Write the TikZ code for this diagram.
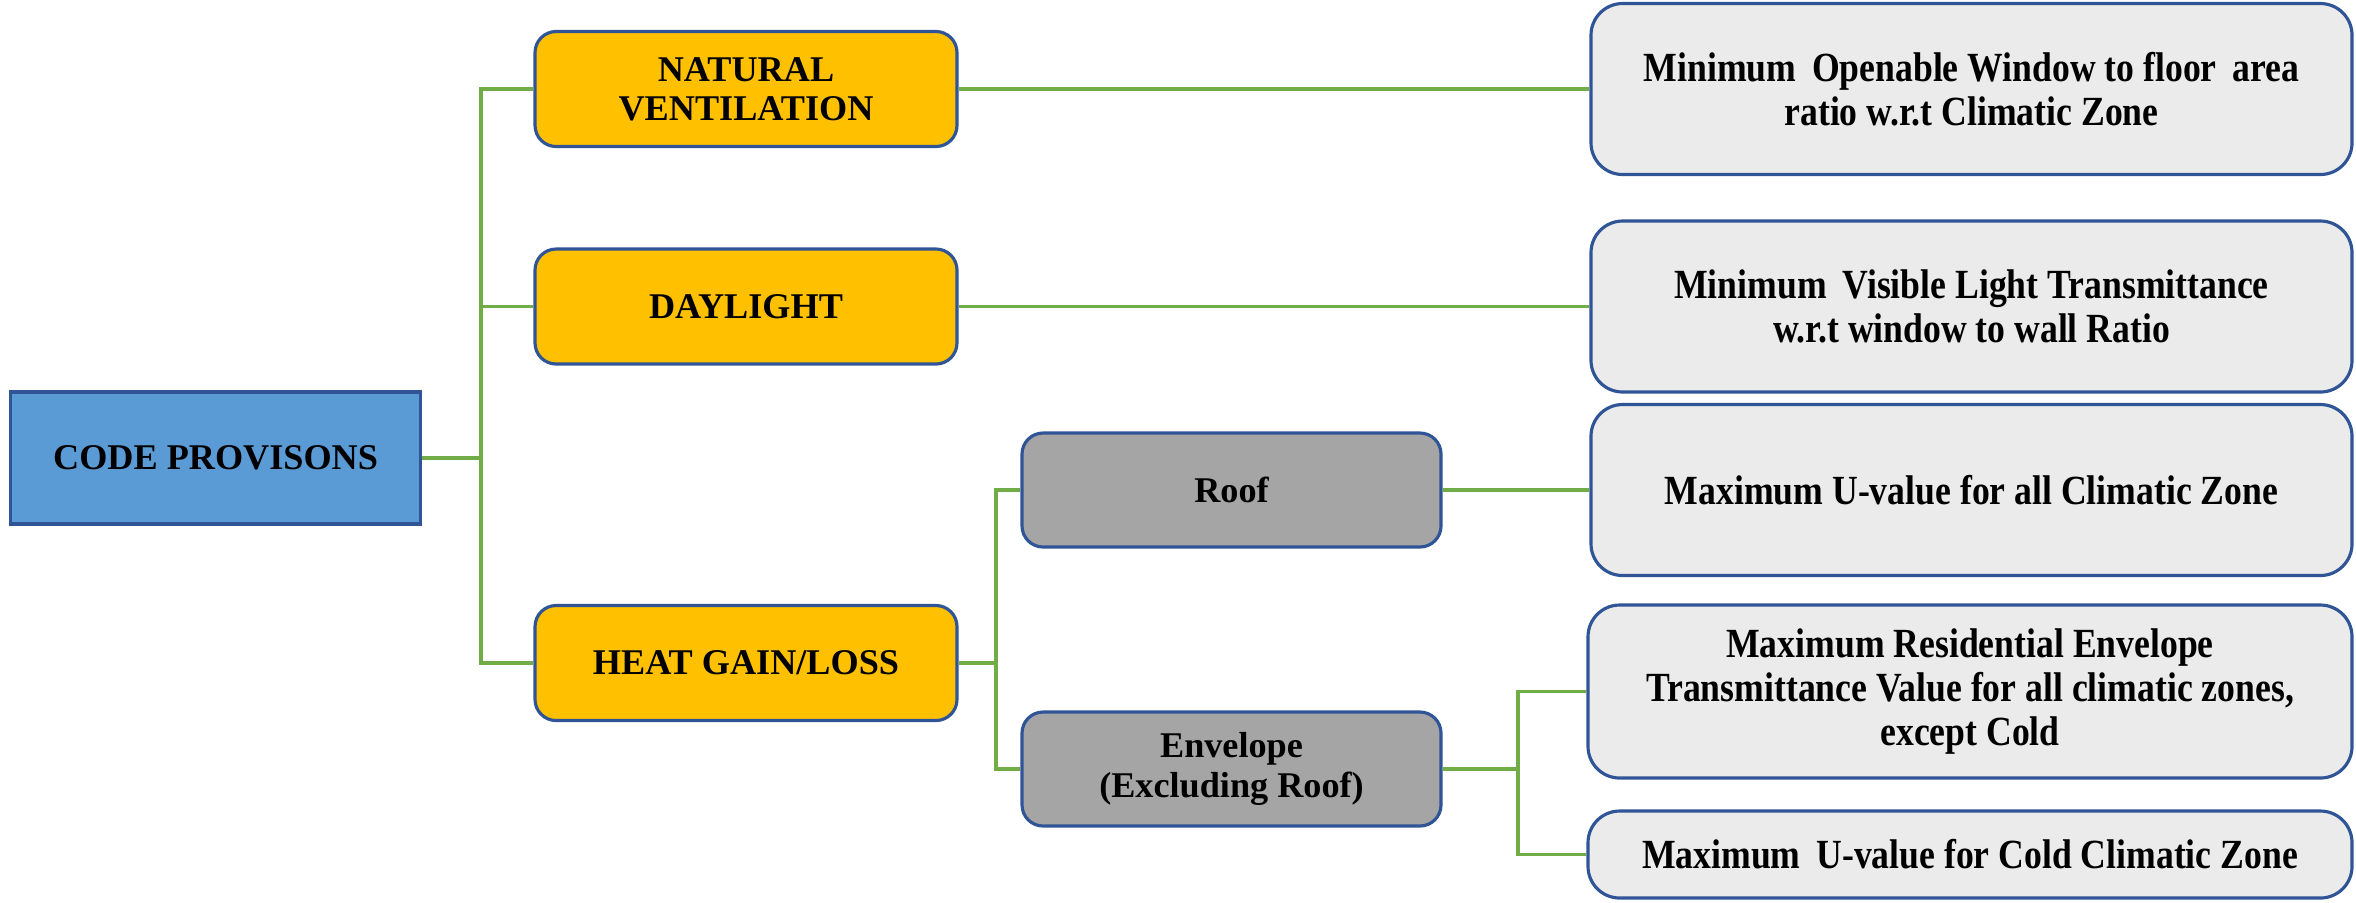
\documentclass[tikz,border=0pt]{standalone}
\usepackage{fontspec}
\setmainfont{Liberation Serif}
\newfontfamily\condfont{Liberation Serif}[FakeStretch=0.86]
\usetikzlibrary{positioning,calc}

\definecolor{rootblue}{HTML}{5B9BD5}
\definecolor{edgeblue}{HTML}{2F5597}
\definecolor{amber}{HTML}{FFC000}
\definecolor{midgray}{HTML}{A5A5A5}
\definecolor{palegray}{HTML}{EBEBEB}
\definecolor{leafgreen}{HTML}{70AD47}

\begin{document}
\begin{tikzpicture}[
    box/.style={draw=edgeblue, line width=0.9pt, align=center, inner sep=2pt, font=\fontsize{10.3}{11.2}\selectfont\bfseries, text=black},
    root/.style={box, fill=rootblue, minimum width=4.10cm, minimum height=1.32cm},
    topic/.style={box, fill=amber, rounded corners=6pt, minimum width=4.22cm, minimum height=1.15cm},
    part/.style={box, fill=midgray, rounded corners=6pt, minimum width=4.19cm, minimum height=1.14cm},
    rule/.style={box, fill=palegray, rounded corners=9pt, minimum width=7.61cm, font=\fontsize{11.8}{12.5}\selectfont\condfont\bfseries},
    link/.style={draw=leafgreen, line width=1.1pt},
]
\useasboundingbox (0,0) rectangle (23.56,-9.02);

\node[root] (code) at (2.156,-4.58) {CODE PROVISONS};

\node[topic] (nat) at (7.46,-0.89) {NATURAL\\VENTILATION};
\node[topic] (day) at (7.46,-3.065) {DAYLIGHT};
\node[topic] (heat) at (7.46,-6.63) {HEAT GAIN/LOSS};

\node[part] (roof) at (12.315,-4.90) {Roof};
\node[part] (env) at (12.315,-7.69) {Envelope\\(Excluding Roof)};

\node[rule, minimum height=1.71cm] (r1) at (19.715,-0.89) {Minimum\, Openable Window to floor\, area\\ratio w.r.t Climatic Zone};
\node[rule, minimum height=1.71cm] (r2) at (19.715,-3.065) {Minimum\, Visible Light Transmittance\\w.r.t window to wall Ratio};
\node[rule, minimum height=1.71cm] (r3) at (19.715,-4.90) {Maximum U-value for all Climatic Zone};
\node[rule, minimum height=1.73cm, minimum width=7.64cm] (r4) at (19.70,-6.915) {Maximum Residential Envelope\\Transmittance Value for all climatic zones,\\except Cold};
\node[rule, minimum height=0.87cm, minimum width=7.64cm] (r5) at (19.70,-8.545) {Maximum\, U-value for Cold Climatic Zone};

% branch points
\coordinate (trunk) at (4.81,0);
\coordinate (heatbus) at (9.96,0);
\coordinate (envbus) at (15.18,0);

\draw[link] (code.east) -- (code.east -| trunk);
\draw[link] (nat.west) -- (nat.west -| trunk) |- (heat.west);
\draw[link] (day.west) -- (day.west -| trunk);

\draw[link] (heat.east) -- (heat.east -| heatbus);
\draw[link] (roof.west) -- (roof.west -| heatbus) |- (env.west);

\draw[link] (nat.east) -- (r1.west);
\draw[link] (day.east) -- (r2.west);
\draw[link] (roof.east) -- (r3.west);

\draw[link] (env.east) -- (env.east -| envbus);
\draw[link] (r4.west) -- (r4.west -| envbus) |- (r5.west);
\end{tikzpicture}
\end{document}
